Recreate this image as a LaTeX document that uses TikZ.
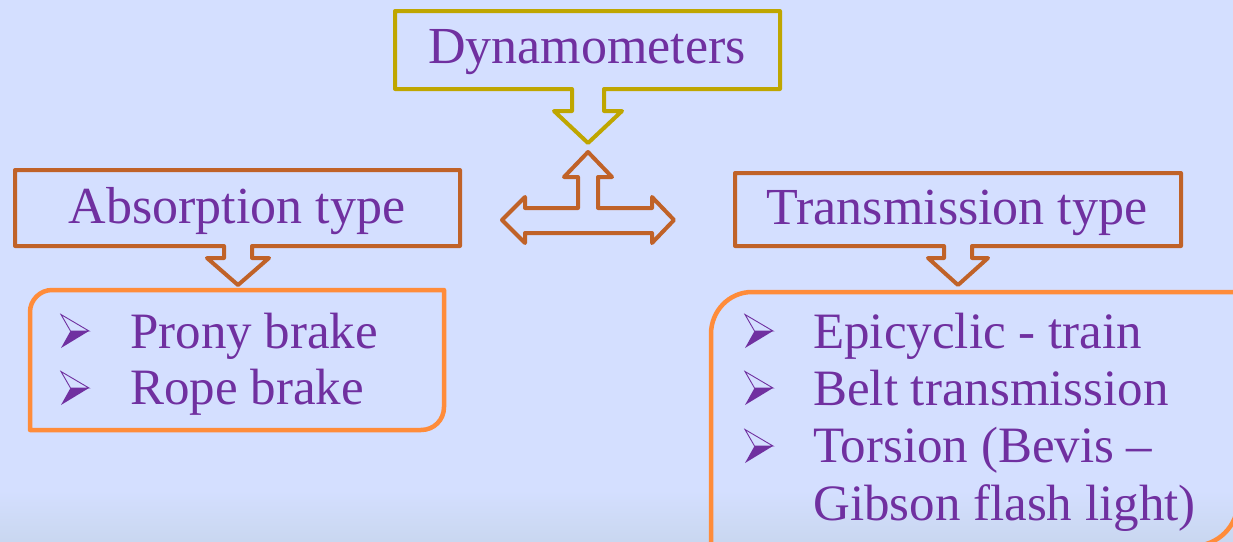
\documentclass[tikz,border=0pt]{standalone}
\usepackage{fontspec}
\setmainfont{Liberation Serif}
\definecolor{bgc}{RGB}{212,223,255}
\definecolor{bgbot}{RGB}{201,215,240}
\definecolor{olive}{RGB}{191,166,0}
\definecolor{rust}{RGB}{192,98,40}
\definecolor{orng}{RGB}{255,140,58}
\definecolor{purp}{RGB}{112,48,160}
\tikzset{
  txt/.style={inner sep=0pt, text=purp, font=\fontsize{52}{60}\selectfont},
  itm/.style={inner sep=0pt, text=purp, font=\fontsize{51}{60}\selectfont, anchor=base west},
  callout/.style={line width=4pt, line join=round},
  listbox/.style={line width=4.5pt, draw=orng, line join=round},
  arrbul/.pic={
    \fill[purp] (-4.5,0) -- (14,0) -- (-14,17) -- cycle;
    \draw[purp, line width=0.9pt, line join=miter] (-14,-16.5) -- (14,0) -- (-4.5,0) -- cycle;
  },
}
\begin{document}
\begin{tikzpicture}[x=1pt,y=-1pt]
\useasboundingbox (0,0) rectangle (1233,541);
\clip (0,0) rectangle (1233,541);
\fill[bgc] (0,0) rectangle (1233,541);
\shade[top color=bgc, bottom color=bgbot] (0,490) rectangle (1233,541);

% top callout
\draw[callout, draw=olive] (395,11) -- (780,11) -- (780,89) -- (604,89) -- (604,111) -- (622,111) -- (588,143) -- (554,111) -- (572,111) -- (572,89) -- (395,89) -- cycle;
\node[txt, anchor=base] (dyn) at (587,63) {Dynamometers};

% three-way arrow
\draw[callout, draw=rust] (588,152) -- (612,177) -- (598,177) -- (598,208) -- (652,208) -- (652,197) -- (674,220) -- (652,243) -- (652,233) -- (525,233) -- (525,243) -- (502,220) -- (525,197) -- (525,208) -- (578,208) -- (578,177) -- (564,177) -- cycle;

% absorption callout
\draw[callout, draw=rust] (15,170) -- (460,170) -- (460,246) -- (252,246) -- (252,258) -- (269,258) -- (238,285) -- (207,258) -- (224,258) -- (224,246) -- (15,246) -- cycle;
\node[txt, anchor=base] (abs) at (237,223) {Absorption type};

% transmission callout
\draw[callout, draw=rust] (735,173) -- (1181,173) -- (1181,246) -- (972,246) -- (972,258) -- (988,258) -- (958,285) -- (928,258) -- (944,258) -- (944,246) -- (735,246) -- cycle;
\node[txt, anchor=base] (tra) at (957,224) {Transmission type};

% left list box
\draw[listbox] (30,312) .. controls (30,300) and (40,290) .. (52,290) -- (444,290) -- (444,407) .. controls (444,420) and (434,430) .. (421,430) -- (30,430) -- cycle;
\pic at (75,331) {arrbul};
\pic at (75,388) {arrbul};
\node[itm] (p1) at (130,348) {Prony brake};
\node[itm] (p2) at (130,404) {Rope brake};

% right list box
\draw[listbox] (711,570) -- (711,334) .. controls (711,311) and (729,292) .. (752,292) -- (1260,292) -- (1260,300) -- (1238,300) -- (1238,501) .. controls (1238,526) and (1218,546) .. (1193,546) -- (711,546);
\pic at (759,331) {arrbul};
\pic at (759,388) {arrbul};
\pic at (759,446) {arrbul};
\node[itm] (q1) at (813,348) {Epicyclic - train};
\node[itm] (q2) at (813,405) {Belt transmission};
\node[itm] (q3) at (813,462) {Torsion (Bevis –};
\node[itm] (q4) at (813,520) {Gibson flash light)};
\end{tikzpicture}
\end{document}
